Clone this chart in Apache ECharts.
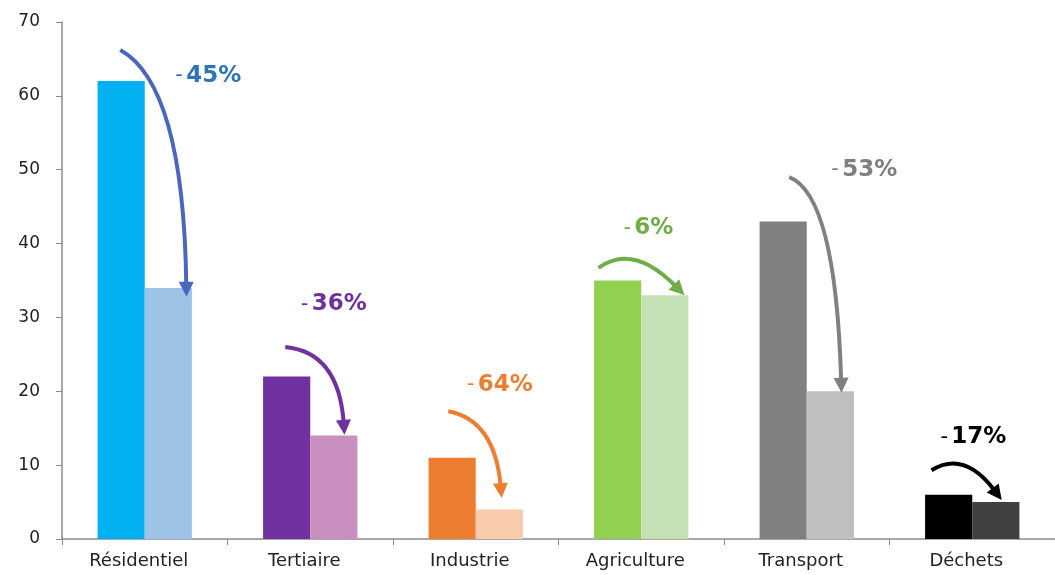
<!DOCTYPE html>
<html><head><meta charset="utf-8">
<script src="https://cdn.jsdelivr.net/npm/echarts@6/dist/echarts.min.js"></script>
<style>html,body{margin:0;padding:0;background:#fff}#c{width:1055px;height:575px}</style>
</head><body><div id="c"></div>
<script>
const categories = ['Résidentiel','Tertiaire','Industrie','Agriculture','Transport','Déchets'];
const valuesBefore = [62, 22, 11, 35, 43, 6];
const valuesAfter = [34, 14, 4, 33, 20, 5];
const colorsBefore = ['#00B0F0','#7030A0','#ED7D31','#92D050','#808080','#000000'];
const colorsAfter = ['#9DC3E6','#C98FBF','#F8CBAD','#C5E0B4','#BFBFBF','#404040'];
const changeLabels = ['45%','36%','64%','6%','53%','17%'];
const labelColors = ['#2E75B6','#7030A0','#ED7D31','#70AD47','#7F7F7F','#000000'];
const arrowColors = ['#4A67BE','#7030A0','#ED7D31','#70AD47','#808080','#000000'];
// annotation anchors in data units: [category index position, value]
const arrowStart   = [[-0.148,66.2],[0.849,26.0],[1.834,17.3],[2.742,36.7],[3.894,49.0],[4.754,9.3]];
const arrowControl = [[0.234,61.5],[1.172,25.3],[2.115,16.1],[2.951,40.1],[4.175,46.6],[4.951,12.05]];
const arrowEnd     = [[0.252,32.8],[1.207,14.1],[2.157,5.55],[3.261,33.0],[4.210,19.8],[5.178,5.28]];
const labelPos     = [[0.384,62.7],[1.142,31.8],[2.145,20.85],[3.043,42.1],[4.348,49.96],[5.007,13.8]];
const yMin = 0, yMax = 70, yStep = 10;

const chart = echarts.init(document.getElementById('c'), null, {renderer:'canvas'});
const axisGray = '#8C8C8C';
const font = '"DejaVu Sans", Verdana, sans-serif';

const arrowData = arrowStart.map((s, i) => ({
  value: [s[0], s[1], arrowControl[i][0], arrowControl[i][1], arrowEnd[i][0], arrowEnd[i][1]]
}));

const labelData = labelPos.map((p, i) => ({
  value: p,
  label: {
    formatter: '{d|-} {n|' + changeLabels[i] + '}',
    rich: {
      d: {fontSize: 21, fontWeight: 'normal', color: labelColors[i], fontFamily: font},
      n: {fontSize: 23, fontWeight: 'bold', color: labelColors[i], fontFamily: font}
    }
  }
}));

chart.setOption({
  animation: false,
  backgroundColor: '#fff',
  grid: {left: 62, right: -12, top: 22, bottom: 36, containLabel: false},
  xAxis: [{
    type: 'category',
    data: categories,
    axisLine: {lineStyle: {color: axisGray, width: 1.5}},
    axisTick: {show: true, length: 6, lineStyle: {color: axisGray}},
    axisLabel: {fontSize: 18, color: '#222', fontFamily: font, margin: 13, interval: 0, padding: [0, 12, 0, 0]},
    splitLine: {show: false}
  }, {
    type: 'value', min: -0.5, max: 5.5, show: false
  }],
  yAxis: {
    type: 'value', min: yMin, max: yMax, interval: yStep,
    axisLine: {show: true, onZero: false, lineStyle: {color: axisGray, width: 1.5}},
    axisTick: {show: true, length: 6, lineStyle: {color: axisGray}},
    axisLabel: {fontSize: 17, color: '#222', fontFamily: font, margin: 22},
    splitLine: {show: false}
  },
  series: [{
    type: 'bar', name: 'avant', xAxisIndex: 0,
    data: valuesBefore.map((v, i) => ({value: v, itemStyle: {color: colorsBefore[i]}})),
    barGap: '0%', barCategoryGap: '43%'
  }, {
    type: 'bar', name: 'après', xAxisIndex: 0,
    data: valuesAfter.map((v, i) => ({value: v, itemStyle: {color: colorsAfter[i]}})),
    barGap: '0%', barCategoryGap: '43%'
  }, {
    type: 'custom', xAxisIndex: 1, z: 10,
    encode: {x: [0, 2, 4], y: [1, 3, 5]},
    data: arrowData,
    renderItem: function (params, api) {
      const color = arrowColors[params.dataIndex];
      const s = api.coord([api.value(0), api.value(1)]);
      const c = api.coord([api.value(2), api.value(3)]);
      const e = api.coord([api.value(4), api.value(5)]);
      const dx = e[0] - c[0], dy = e[1] - c[1];
      const L = Math.hypot(dx, dy) || 1;
      const ux = dx / L, uy = dy / L;
      const head = 15, hw = 7.5;
      const bx = e[0] - ux * head, by = e[1] - uy * head;
      return {
        type: 'group',
        children: [{
          type: 'bezierCurve',
          shape: {x1: s[0], y1: s[1], x2: bx + ux * 3, y2: by + uy * 3, cpx1: c[0], cpy1: c[1]},
          style: {stroke: color, lineWidth: 4, fill: 'none'}
        }, {
          type: 'polygon',
          shape: {points: [[e[0], e[1]], [bx - uy * hw, by + ux * hw], [bx + uy * hw, by - ux * hw]]},
          style: {fill: color}
        }]
      };
    }
  }, {
    type: 'scatter', xAxisIndex: 1, z: 11,
    symbolSize: 0,
    itemStyle: {opacity: 1},
    data: labelData,
    label: {show: true, position: 'inside'},
    silent: true
  }]
});
</script>
</body></html>
